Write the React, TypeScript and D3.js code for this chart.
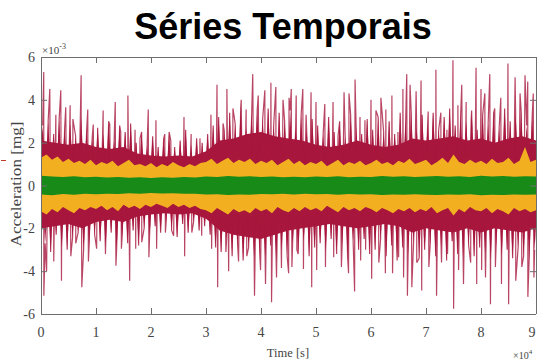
import React from "react";
import * as d3 from "d3";

// Time axis in units of 1e4 s, acceleration in units of 1e-3 mg
const xTicks = [0, 1, 2, 3, 4, 5, 6, 7, 8, 9];
const yTicks = [-6, -4, -2, 0, 2, 4, 6];

// red series: dense core envelope every 0.25
const redCoreHi = [2.1, 2.0, 1.9, 2.0, 1.8, 1.7, 1.8, 1.5, 1.4, 1.35, 1.4, 1.35, 1.6, 2.1, 2.2, 2.4, 2.5, 2.3, 2.2, 2.1, 1.9, 1.8, 1.9, 2.1, 1.9, 1.8, 1.9, 2.2, 2.1, 2.2, 2.3, 2.1, 2.2, 2.0, 2.2, 2.3, 2.1];
const redCoreLo = [-2.0, -1.9, -1.8, -2.0, -1.7, -1.6, -1.7, -1.45, -1.35, -1.3, -1.35, -1.3, -1.55, -2.1, -2.3, -2.4, -2.5, -2.3, -2.1, -2.0, -1.9, -1.8, -1.9, -2.0, -1.9, -1.8, -1.9, -2.2, -2.0, -2.1, -2.2, -2.0, -2.2, -2.0, -2.1, -2.2, -2.0];

// red series: medium peaks every 0.1
const redMidUp = [
  2.8, 3.0, 2.4, 3.1, 2.7, 2.9, 2.3, 3.2, 2.6, 2.2,
  2.7, 2.4, 3.0, 2.1, 2.8, 2.5, 2.9, 2.0, 2.5, 1.9,
  2.3, 1.8, 2.2, 2.5, 1.8, 2.1, 2.6, 1.9, 2.2, 2.0,
  2.4, 2.8, 3.2, 2.6, 3.4, 2.9, 3.6, 2.7, 3.3, 3.5,
  3.1, 3.6, 2.8, 3.4, 3.0, 3.5, 2.7, 3.3, 2.6, 3.1,
  2.8, 2.4, 3.2, 2.5, 3.0, 2.3, 3.3, 2.7, 2.4, 3.1,
  2.6, 3.2, 2.5, 3.0, 2.4, 3.4, 3.0, 3.5, 2.7, 3.3,
  2.9, 3.4, 2.6, 3.2, 3.6, 2.8, 3.3, 3.0, 3.5, 2.6,
  3.3, 2.9, 3.4, 2.7, 3.6, 3.0, 3.3, 3.5, 2.8, 3.2,
];
const redMidDown = [
  -2.7, -3.1, -2.3, -2.9, -3.0, -2.4, -2.2, -3.0, -2.8, -2.3,
  -2.6, -2.9, -2.2, -3.0, -2.4, -2.7, -2.1, -2.8, -2.0, -2.3,
  -1.9, -2.2, -1.7, -2.1, -2.4, -1.8, -2.2, -1.7, -2.1, -1.9,
  -2.3, -2.9, -3.1, -2.5, -3.3, -2.8, -3.5, -2.9, -3.4, -3.1,
  -3.4, -2.8, -3.5, -3.0, -3.3, -2.7, -3.2, -2.6, -3.3, -2.9,
  -2.7, -3.1, -2.5, -3.2, -2.8, -3.4, -2.6, -3.0, -2.5, -3.2,
  -3.0, -2.5, -3.3, -2.8, -3.5, -2.9, -3.2, -2.6, -3.4, -3.0,
  -2.8, -3.3, -2.9, -3.5, -2.6, -3.2, -3.4, -2.8, -3.3, -2.9,
  -3.2, -3.5, -2.8, -3.3, -3.0, -3.4, -2.9, -3.3, -3.5, -3.0,
];

// red series: largest peaks [time, value]
const redPeaksUp: [number, number][] = [
  [0.05, 5.3], [0.16, 4.5], [0.27, 3.3], [0.36, 4.45], [0.45, 3.65], [0.53, 3.75], [0.58, 3.1], [0.73, 5.15], [0.85, 3.55], [0.95, 2.85],
  [1.13, 3.5], [1.25, 2.85], [1.35, 3.9], [1.45, 2.5], [1.58, 4.2], [1.71, 2.6], [1.8, 2.2], [1.95, 3.55], [2.09, 3.05], [2.25, 2.4],
  [2.36, 2.1], [2.6, 3.2], [2.73, 2.4], [2.89, 2.2], [3.09, 3.3], [3.2, 4.7], [3.31, 2.9], [3.38, 4.5], [3.49, 3.6], [3.64, 4.0],
  [3.73, 3.55], [3.85, 5.2], [3.95, 4.2], [4.07, 4.45], [4.18, 4.8], [4.27, 4.6], [4.4, 4.0], [4.51, 4.1], [4.55, 4.5], [4.64, 4.2],
  [4.76, 4.5], [4.82, 3.3], [4.91, 4.35], [5.0, 3.9], [5.16, 3.8], [5.31, 3.9], [5.4, 2.3], [5.51, 4.35], [5.6, 4.3], [5.71, 4.95],
  [5.8, 3.2], [5.89, 3.05], [6.0, 4.0], [6.09, 3.5], [6.18, 4.1], [6.27, 3.55], [6.38, 4.2], [6.49, 2.5], [6.58, 4.5], [6.65, 5.2],
  [6.71, 4.7], [6.82, 4.4], [6.91, 4.9], [7.04, 3.45], [7.18, 5.4], [7.27, 3.4], [7.38, 2.6], [7.49, 5.85], [7.58, 3.75], [7.65, 4.7],
  [7.73, 3.9], [7.82, 3.0], [7.91, 5.5], [8.0, 4.5], [8.07, 4.3], [8.16, 5.2], [8.25, 3.6], [8.36, 4.1], [8.49, 5.7], [8.62, 5.05],
  [8.71, 4.3], [8.8, 5.15], [8.85, 4.85], [8.95, 4.3],
];
const redPeaksDown: [number, number][] = [
  [0.04, -5.15], [0.09, -4.0], [0.22, -3.55], [0.36, -4.45], [0.53, -3.3], [0.62, -2.7], [0.73, -4.75], [0.85, -3.55], [1.0, -2.95], [1.16, -3.2],
  [1.35, -3.75], [1.45, -2.95], [1.6, -4.45], [1.71, -2.95], [1.82, -2.65], [1.95, -3.35], [2.09, -2.95], [2.25, -2.2], [2.4, -2.35], [2.6, -3.3],
  [2.73, -2.2], [2.91, -2.35], [3.09, -2.95], [3.2, -4.75], [3.35, -3.1], [3.4, -4.0], [3.58, -3.55], [3.73, -3.3], [3.87, -5.15], [3.98, -3.95],
  [4.07, -4.6], [4.18, -5.45], [4.27, -4.3], [4.36, -3.85], [4.49, -4.1], [4.55, -3.8], [4.64, -3.0], [4.76, -3.9], [4.91, -4.75], [5.0, -3.95],
  [5.16, -3.8], [5.31, -3.35], [5.45, -3.8], [5.58, -4.1], [5.69, -4.95], [5.8, -3.5], [5.89, -3.0], [6.0, -4.35], [6.13, -3.6], [6.25, -4.1],
  [6.38, -4.1], [6.49, -3.35], [6.58, -4.3], [6.65, -5.15], [6.73, -4.75], [6.82, -3.6], [6.91, -4.9], [7.04, -3.8], [7.18, -5.15], [7.27, -3.6],
  [7.38, -3.2], [7.49, -5.75], [7.58, -3.95], [7.67, -4.6], [7.8, -3.6], [7.91, -4.6], [8.0, -3.95], [8.07, -4.3], [8.16, -5.55], [8.25, -3.8],
  [8.36, -4.6], [8.49, -5.55], [8.62, -4.45], [8.73, -3.8], [8.84, -5.2], [8.95, -4.3],
];

// orange series envelope every 0.1
const orangeHi = [
  1.3, 1.45, 1.2, 1.35, 1.1, 1.25, 1.05, 1.15, 1.0, 1.2,
  0.95, 1.1, 1.0, 1.15, 0.9, 1.05, 1.2, 0.95, 1.0, 0.9,
  1.05, 0.85, 1.0, 0.9, 1.1, 0.95, 0.85, 1.0, 0.9, 1.05,
  1.1, 1.25, 1.0, 1.15, 1.3, 1.05, 1.2, 1.1, 1.25, 1.0,
  1.15, 1.05, 1.2, 0.95, 1.1, 1.25, 1.0, 1.15, 0.95, 1.1,
  1.0, 1.15, 0.9, 1.05, 1.2, 0.95, 1.1, 1.0, 1.15, 0.95,
  1.05, 1.2, 1.0, 1.1, 0.95, 1.15, 1.05, 1.25, 1.0, 1.1,
  1.2, 0.95, 1.1, 1.3, 1.05, 1.45, 1.1, 1.0, 1.2, 1.05,
  1.15, 1.0, 1.25, 1.05, 1.1, 1.3, 1.0, 1.15, 1.8, 1.1, 1.2,
];
const orangeLo = [
  -1.2, -1.35, -1.1, -1.25, -1.0, -1.15, -1.3, -1.05, -1.15, -1.0,
  -1.1, -0.95, -1.15, -1.0, -1.2, -0.9, -1.05, -0.95, -1.1, -0.9,
  -1.0, -0.85, -0.95, -1.05, -0.85, -1.0, -0.9, -1.05, -0.95, -1.1,
  -1.15, -1.3, -1.05, -1.2, -1.35, -1.1, -1.25, -1.15, -1.3, -1.05,
  -1.2, -1.1, -1.3, -1.0, -1.15, -1.25, -1.05, -1.2, -1.0, -1.15,
  -1.05, -1.2, -0.95, -1.1, -1.25, -1.0, -1.15, -1.05, -1.2, -1.0,
  -1.1, -1.25, -1.05, -1.15, -1.3, -1.1, -1.2, -1.05, -1.25, -1.1,
  -1.2, -1.0, -1.3, -1.15, -1.05, -1.4, -1.1, -1.25, -1.0, -1.15,
  -1.2, -1.05, -1.3, -1.1, -1.2, -1.35, -1.05, -1.2, -1.1, -1.25, -1.15,
];

// green series envelope every 0.2
const greenHi = [0.45, 0.42, 0.4, 0.43, 0.38, 0.41, 0.37, 0.4, 0.36, 0.39, 0.35, 0.38, 0.36, 0.4, 0.37, 0.42, 0.4, 0.44, 0.41, 0.43, 0.4, 0.42, 0.39, 0.41, 0.38, 0.42, 0.4, 0.43, 0.39, 0.41, 0.4, 0.44, 0.41, 0.43, 0.4, 0.42, 0.44, 0.41, 0.43, 0.4, 0.45, 0.42, 0.44, 0.41, 0.43, 0.42];
const greenLo = [-0.42, -0.45, -0.4, -0.43, -0.39, -0.41, -0.38, -0.4, -0.36, -0.39, -0.35, -0.37, -0.36, -0.39, -0.38, -0.42, -0.41, -0.44, -0.42, -0.43, -0.4, -0.41, -0.39, -0.42, -0.38, -0.41, -0.4, -0.43, -0.4, -0.42, -0.41, -0.44, -0.42, -0.43, -0.41, -0.43, -0.44, -0.42, -0.43, -0.41, -0.45, -0.43, -0.44, -0.42, -0.43, -0.42];

const RED = "#a8173d";
const ORANGE = "#f2b021";
const GREEN = "#178a17";
const AXIS = "#6e6e6e";
const LABEL = "#444";
const SERIF = "'Liberation Serif', 'Times New Roman', serif";

export default function App() {
  const W = 537, H = 361;
  const L = 41, R = 536, T = 57, B = 314;
  const x = d3.scaleLinear().domain([0, 9]).range([L, R]);
  const y = d3.scaleLinear().domain([-6, 6]).range([B, T]);

  const band = (hi: number[], lo: number[], step: number) =>
    d3.area<number>()
      .x((_, i) => x(i * step))
      .y0((_, i) => y(lo[i]))
      .y1((d) => y(d))(hi) as string;

  const coreAt = (arr: number[], t: number) => {
    const tt = Math.max(0, Math.min(9, t));
    const i = Math.min(arr.length - 2, Math.floor(tt / 0.25));
    const f = tt / 0.25 - i;
    return arr[i] * (1 - f) + arr[i + 1] * f;
  };

  const spike = (t: number, v: number, base: number, hw: number) => {
    const cx = x(t);
    return `M${cx - hw},${y(base)}L${cx},${y(v)}L${cx + hw},${y(base)}Z`;
  };

  // merge all red samples into one time-ordered trace
  const redTrace: [number, number][] = [
    ...redPeaksUp,
    ...redPeaksDown.map(([t, v]) => [t + 0.012, v] as [number, number]),
    ...redMidUp.map((v, i) => [i * 0.1 + 0.03, v] as [number, number]),
    ...redMidDown.map((v, i) => [i * 0.1 + 0.075, v] as [number, number]),
  ].sort((a, b) => a[0] - b[0]);

  const redLine = d3.line<[number, number]>()
    .x((d) => x(d[0]))
    .y((d) => y(d[1]))(redTrace) as string;

  return (
    <svg width={W} height={H} style={{ display: "block", position: "absolute", left: 0, top: 0 }}>
      <rect width={W} height={H} fill="#fff" />
      <defs>
        <clipPath id="plot">
          <rect x={L} y={T} width={R - L} height={B - T} />
        </clipPath>
      </defs>
      <text x={283} y={39} textAnchor="middle" fontFamily="'Liberation Sans', Arial, sans-serif" fontWeight="bold" fontSize={36} fill="#000">
        Séries Temporais
      </text>

      <g clipPath="url(#plot)">
        <path d={band(redCoreHi, redCoreLo, 0.25)} fill={RED} />
        {redMidUp.map((v, i) => (
          <path key={"mu" + i} d={spike(i * 0.1 + 0.03, v, coreAt(redCoreHi, i * 0.1 + 0.03) * 0.6, 2.2)} fill={RED} />
        ))}
        {redMidDown.map((v, i) => (
          <path key={"md" + i} d={spike(i * 0.1 + 0.075, v, coreAt(redCoreLo, i * 0.1 + 0.075) * 0.6, 2.2)} fill={RED} />
        ))}
        <path d={redLine} fill="none" stroke={RED} strokeOpacity={0.8} strokeWidth={1.2} strokeLinejoin="miter" strokeMiterlimit={1} />
        <path d={band(orangeHi, orangeLo, 0.1)} fill={ORANGE} />
        <path d={band(greenHi, greenLo, 0.2)} fill={GREEN} />
      </g>

      {/* axes box */}
      <g stroke={AXIS} strokeWidth={1} fill="none">
        <line x1={L} x2={R} y1={B + 0.5} y2={B + 0.5} />
        <line x1={L} x2={R} y1={T + 0.5} y2={T + 0.5} />
        <line x1={L + 0.5} x2={L + 0.5} y1={T} y2={B} />
        <line x1={R + 0.5} x2={R + 0.5} y1={T} y2={B} />
        {xTicks.map((t) => (
          <g key={"xt" + t}>
            <line x1={x(t) + 0.5} x2={x(t) + 0.5} y1={B} y2={B - 6} />
            <line x1={x(t) + 0.5} x2={x(t) + 0.5} y1={T} y2={T + 6} />
          </g>
        ))}
        {yTicks.map((v) => (
          <g key={"yt" + v}>
            <line x1={L} x2={L + 6} y1={y(v) + 0.5} y2={y(v) + 0.5} />
            <line x1={R} x2={R - 6} y1={y(v) + 0.5} y2={y(v) + 0.5} />
          </g>
        ))}
      </g>

      <g fontFamily={SERIF} fontSize={14} fill={LABEL}>
        {xTicks.map((t) => (
          <text key={"xl" + t} x={t === 9 ? x(t) - 4 : x(t)} y={337} textAnchor="middle">{t}</text>
        ))}
        {yTicks.map((v) => (
          <text key={"yl" + v} x={35} y={y(v) + 5} textAnchor="end">{v}</text>
        ))}
      </g>

      <text x={288} y={357} textAnchor="middle" fontFamily={SERIF} fontSize={12.5} fill={LABEL}>Time [s]</text>
      <text transform="translate(21,184) rotate(-90)" textAnchor="middle" fontFamily={SERIF} fontSize={14} fill={LABEL} textLength={125} lengthAdjust="spacingAndGlyphs">
        Acceleration [mg]
      </text>

      <text x={42} y={54} fontFamily={SERIF} fontSize={11} fill={LABEL}>
        ×10<tspan dy={-5} fontSize={8}>-3</tspan>
      </text>
      <text x={513} y={359} fontFamily={SERIF} fontSize={10} fill={LABEL}>
        ×10<tspan dy={-5} fontSize={7}>4</tspan>
      </text>

      <line x1={1} x2={6} y1={160.5} y2={160.5} stroke="#c0392b" strokeWidth={1} />
    </svg>
  );
}
